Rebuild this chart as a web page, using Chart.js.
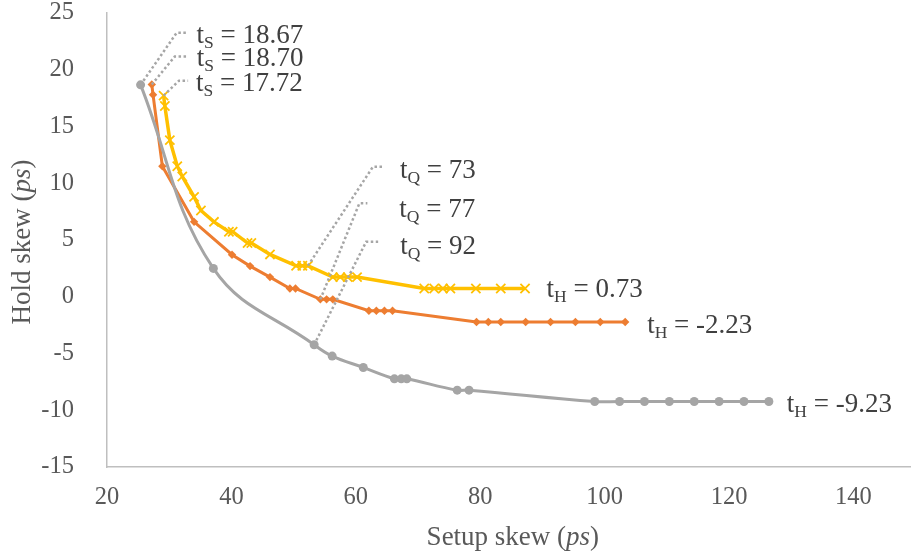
<!DOCTYPE html>
<html>
<head>
<meta charset="utf-8">
<script src="https://cdn.jsdelivr.net/npm/chart.js@4.4.0/dist/chart.umd.min.js"></script>
<style>
  html, body { margin: 0; padding: 0; background: #fff; }
  #wrap { width: 919px; height: 559px; }
</style>
</head>
<body>
<div id="wrap"><canvas id="chart"></canvas></div>
<script>
/* Values (setup skew x, hold skew y, in ps) */
const grayX = [25.4, 37.1, 53.3, 56.2, 61.2, 66.2, 67.3, 68.2, 76.3, 78.2, 98.4, 102.4, 106.4, 110.4, 114.4, 118.4, 122.4, 126.4];
const grayY = [18.67, 2.5, -4.23, -5.23, -6.23, -7.23, -7.23, -7.23, -8.23, -8.23, -9.23, -9.23, -9.23, -9.23, -9.23, -9.23, -9.23, -9.23];

const orangeX = [27.2, 27.4, 28.9, 34.0, 40.1, 43.0, 46.2, 49.4, 50.3, 54.3, 55.3, 56.3, 62.1, 63.3, 64.6, 65.9, 79.4, 81.3, 83.3, 87.3, 91.3, 95.3, 99.3, 103.3];
const orangeY = [18.70, 17.8, 11.5, 6.6, 3.7, 2.7, 1.73, 0.73, 0.73, -0.23, -0.23, -0.23, -1.23, -1.23, -1.23, -1.23, -2.23, -2.23, -2.23, -2.23, -2.23, -2.23, -2.23, -2.23];

const yellowX = [29.1, 29.3, 30.1, 31.3, 32.1, 34.0, 35.1, 37.2, 39.6, 40.2, 42.6, 43.2, 46.2, 50.4, 51.4, 52.3, 56.3, 57.5, 58.7, 60.2, 71.0, 72.6, 74.0, 75.2, 79.3, 83.3, 87.2];
const yellowY = [17.72, 16.8, 13.8, 11.5, 10.6, 8.8, 7.6, 6.6, 5.73, 5.73, 4.73, 4.73, 3.73, 2.73, 2.73, 2.73, 1.73, 1.73, 1.73, 1.73, 0.73, 0.73, 0.73, 0.73, 0.73, 0.73, 0.73];

const xTicks = [20, 40, 60, 80, 100, 120, 140];

/* data labels: series (0 gray, 1 orange, 2 yellow), point index, subscript, value */
const labelSeries = [0, 1, 2, 2, 1, 0, 2, 1, 0];
const labelIndex  = [0, 0, 0, 15, 9, 2, -1, -1, -1];   /* -1 = last point */
const labelSub    = ['S', 'S', 'S', 'Q', 'Q', 'Q', 'H', 'H', 'H'];
const labelValue  = ['18.67', '18.70', '17.72', '73', '77', '92', '0.73', '-2.23', '-9.23'];

/* where each label sits relative to its point, in px (leader elbow, leader end, text left/middle) */
const labelPlace = [
  {elbow: [36, -52], end: 47, text: [56, -51]},
  {elbow: [23, -28], end: 35, text: [45, -27.5]},
  {elbow: [15.5, -15], end: 24.5, text: [32.5, -14]},
  {elbow: [65, -99], end: 75, text: [92, -96.5]},
  {elbow: [39, -96], end: 47, text: [79, -91.5]},
  {elbow: [52, -103], end: 64, text: [86, -100]},
  {text: [21.5, -0.5]},
  {text: [22, 1.5]},
  {text: [18, 1]}
];

const SERIF = '"Liberation Serif", "Times New Roman", serif';

function pts(xs, ys) {
  return xs.map(function (x, i) { return {x: x, y: ys[i]}; });
}

/* t with a subscript, then " = value"; x is left, y is middle of the digits */
function drawSubLabel(ctx, x, y, sub, value) {
  const base = y + 9;
  ctx.fillStyle = '#404040';
  ctx.textAlign = 'left';
  ctx.textBaseline = 'alphabetic';
  ctx.font = '27px ' + SERIF;
  ctx.fillText('t', x, base);
  let w = ctx.measureText('t').width;
  ctx.font = '17.5px ' + SERIF;
  ctx.fillText(sub, x + w, base + 5);
  w += ctx.measureText(sub).width;
  ctx.font = '27px ' + SERIF;
  ctx.fillText(' = ' + value, x + w, base);
}

/* plain + italic pieces, centred on (0,0) of the current transform */
function drawMixed(ctx, parts) {
  let total = 0;
  parts.forEach(function (p) {
    ctx.font = (p[1] ? 'italic ' : '') + '27px ' + SERIF;
    total += ctx.measureText(p[0]).width;
  });
  let x = -total / 2;
  ctx.fillStyle = '#595959';
  ctx.textAlign = 'left';
  ctx.textBaseline = 'middle';
  parts.forEach(function (p) {
    ctx.font = (p[1] ? 'italic ' : '') + '27px ' + SERIF;
    ctx.fillText(p[0], x, 0);
    x += ctx.measureText(p[0]).width;
  });
}

const labelPlugin = {
  id: 'skewLabels',
  afterDatasetsDraw(chart) {
    const ctx = chart.ctx;
    ctx.save();
    labelSeries.forEach(function (s, i) {
      const meta = chart.getDatasetMeta(s).data;
      const idx = labelIndex[i] < 0 ? meta.length - 1 : labelIndex[i];
      const p = meta[idx];
      const place = labelPlace[i];
      if (place.elbow) {
        ctx.beginPath();
        ctx.strokeStyle = '#A6A6A6';
        ctx.lineWidth = 2.5;
        ctx.setLineDash([2.5, 2.5]);
        ctx.moveTo(p.x, p.y);
        ctx.lineTo(p.x + place.elbow[0], p.y + place.elbow[1]);
        ctx.lineTo(p.x + place.end, p.y + place.elbow[1]);
        ctx.stroke();
        ctx.setLineDash([]);
      }
      drawSubLabel(ctx, p.x + place.text[0], p.y + place.text[1], labelSub[i], labelValue[i]);
    });
    ctx.restore();
  },
  afterDraw(chart) {
    const ctx = chart.ctx;
    const a = chart.chartArea;
    ctx.save();
    ctx.translate((a.left + a.right) / 2 + 4, 538);
    drawMixed(ctx, [['Setup skew (', false], ['ps', true], [')', false]]);
    ctx.restore();
    ctx.save();
    ctx.translate(23, (a.top + a.bottom) / 2 + 2);
    ctx.rotate(-Math.PI / 2);
    drawMixed(ctx, [['Hold skew (', false], ['ps', true], [')', false]]);
    ctx.restore();
  }
};

new Chart(document.getElementById('chart'), {
  type: 'scatter',
  data: {
    datasets: [
      {
        label: 'gray',
        data: pts(grayX, grayY),
        showLine: true,
        tension: 0.4,
        borderColor: '#A5A5A5',
        borderWidth: 3,
        pointStyle: 'circle',
        pointRadius: 4.5,
        pointBackgroundColor: '#A5A5A5',
        pointBorderWidth: 0
      },
      {
        label: 'orange',
        data: pts(orangeX, orangeY),
        showLine: true,
        tension: 0,
        borderColor: '#ED7D31',
        borderWidth: 3,
        pointStyle: 'rectRot',
        pointRadius: 4.2,
        pointBackgroundColor: '#ED7D31',
        pointBorderColor: '#ED7D31',
        pointBorderWidth: 0
      },
      {
        label: 'yellow',
        data: pts(yellowX, yellowY),
        showLine: true,
        tension: 0,
        borderColor: '#FFC000',
        borderWidth: 3.5,
        pointStyle: 'crossRot',
        pointRadius: 6.5,
        pointBorderColor: '#FFC000',
        pointBorderWidth: 1.8
      }
    ]
  },
  options: {
    responsive: true,
    maintainAspectRatio: false,
    animation: false,
    events: [],
    layout: { padding: { top: 13, right: 0, left: 0, bottom: 0 } },
    plugins: {
      legend: { display: false },
      tooltip: { enabled: false }
    },
    scales: {
      x: {
        type: 'linear',
        min: 20,
        max: 149.2,
        afterBuildTicks: function (scale) {
          scale.ticks = xTicks.map(function (v) { return {value: v}; });
        },
        afterFit: function (scale) { scale.height = 92; },
        grid: { display: false, drawTicks: false },
        border: { display: true, color: '#BFBFBF', width: 1.5 },
        ticks: {
          padding: 18,
          color: '#595959',
          font: { family: SERIF, size: 24.5, lineHeight: 1 }
        }
      },
      y: {
        type: 'linear',
        min: -15,
        max: 25,
        afterFit: function (scale) {
          scale.width = 107;
          /* tick padding would otherwise push the plot top down */
          scale.paddingTop = 0;
          scale.paddingBottom = 0;
        },
        grid: { display: false, drawTicks: false },
        border: { display: true, color: '#BFBFBF', width: 1.5 },
        ticks: {
          stepSize: 5,
          padding: 33,
          color: '#595959',
          font: { family: SERIF, size: 24.5, lineHeight: 1 }
        }
      }
    }
  },
  plugins: [labelPlugin]
});
</script>
</body>
</html>
